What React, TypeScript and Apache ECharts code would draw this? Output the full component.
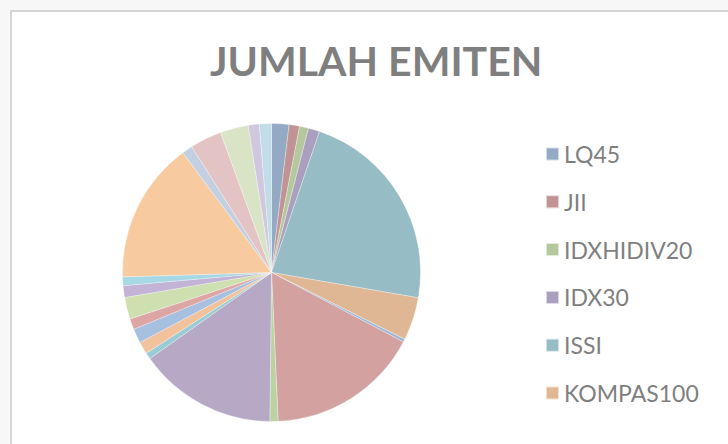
import React, { useEffect, useRef } from "react";
import * as echarts from "echarts";

const legendNames = ["LQ45", "JII", "IDXHIDIV20", "IDX30", "ISSI", "KOMPAS100"];

// slice values in pie order (clockwise from 12 o'clock)
const sliceValues = [
  6.8, 4.1, 3.5, 4.4, 81.0, 16.8,
  1.2, 59.7, 3.2, 54.1, 2.5, 4.8,
  5.6, 4.2, 8.5, 4.6, 3.4, 55.2,
  4.1, 12.4, 11.0, 4.3, 4.7,
];

const sliceColors = [
  "#93a9c4", "#c09494", "#b5c79c", "#ab9fbf", "#96bcc5", "#dfb794",
  "#a1b7d3", "#d3a1a0", "#bcd2a3", "#b7a8c6", "#9accd6", "#f1c29c",
  "#a7c0df", "#dea5a5", "#cfe0b0", "#c3b3d6", "#a7d8e5", "#f8ca9f",
  "#c2d0e2", "#e3c3c3", "#d9e4c7", "#d0c8df", "#c1dde7",
];

export default function App() {
  const ref = useRef<HTMLDivElement>(null);
  useEffect(() => {
    if (!ref.current) return;
    const chart = echarts.init(ref.current, undefined, { renderer: "svg" });
    const data = sliceValues.map((v, i) => ({
      name: legendNames[i % legendNames.length],
      value: v,
      itemStyle: { color: sliceColors[i] },
    }));
    chart.setOption({
      animation: false,
      backgroundColor: "#f6f7f6",
      graphic: [
        {
          type: "rect",
          shape: { x: 11, y: 11, width: 740, height: 460 },
          style: { fill: "#ffffff", stroke: "#c8c8c8", lineWidth: 1.5 },
          z: -10,
        },
      ],
      title: {
        text: "JUMLAH EMITEN",
        left: 205,
        top: 35,
        textStyle: {
          fontFamily: "Lato",
          fontWeight: "bold",
          fontSize: 41,
          color: "#7f7f7f",
        },
      },
      legend: {
        orient: "vertical",
        left: 540,
        top: 137,
        data: legendNames,
        icon: "rect",
        itemWidth: 13,
        itemHeight: 13,
        itemGap: 23.8,
        selectedMode: false,
        textStyle: {
          fontFamily: "Lato",
          fontSize: 23,
          color: "#7f7f7f",
          lineHeight: 24,
        },
      },
      series: [
        {
          type: "pie",
          center: [271.5, 272.5],
          radius: 149,
          startAngle: 90,
          clockwise: true,
          label: { show: false },
          labelLine: { show: false },
          itemStyle: { borderColor: "rgba(255,255,255,0.6)", borderWidth: 0.5 },
          emphasis: { disabled: true },
          data,
        },
      ],
    });
    return () => chart.dispose();
  }, []);
  return (
    <div
      ref={ref}
      style={{ position: "fixed", left: 0, top: 0, width: 728, height: 444 }}
    />
  );
}
